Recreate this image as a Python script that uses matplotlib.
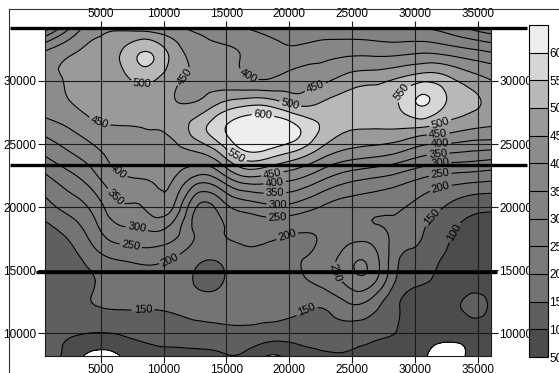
import numpy as np
import matplotlib
matplotlib.use("Agg")
import matplotlib.pyplot as plt
import matplotlib.tri as mtri
from matplotlib.lines import Line2D

plt.rcParams["font.family"] = ["Liberation Sans", "DejaVu Sans"]

# sample positions of the gridded survey values
x_grid = [560, 2560, 4560, 6560, 8560, 10560, 12560, 14560, 16560, 18560,
          20560, 22560, 24560, 26560, 28560, 30560, 32560, 34560, 36560]
y_grid = [34200, 32200, 30200, 28200, 26200, 24200, 22200,
          20200, 18200, 16200, 14200, 12200, 10200, 8200]

# values, one row per y_grid entry (top row first)
z_rows = [
    [220, 350, 430, 440, 425, 410, 390, 370, 350, 330, 320, 320, 320, 315, 310, 300, 280, 240, 210],
    [410, 445, 470, 500, 555, 490, 430, 410, 395, 370, 365, 380, 390, 390, 390, 400, 390, 370, 350],
    [430, 458, 475, 485, 515, 470, 440, 425, 405, 400, 420, 435, 465, 480, 500, 530, 510, 470, 440],
    [425, 448, 470, 475, 460, 455, 455, 505, 535, 530, 490, 505, 520, 525, 545, 605, 545, 510, 470],
    [370, 400, 435, 445, 450, 460, 520, 590, 640, 640, 610, 545, 505, 500, 500, 490, 470, 450, 440],
    [305, 345, 385, 420, 425, 430, 440, 500, 585, 570, 530, 470, 430, 415, 395, 360, 345, 335, 325],
    [235, 280, 335, 390, 400, 405, 330, 360, 430, 420, 400, 355, 315, 295, 275, 245, 225, 215, 205],
    [185, 225, 275, 345, 360, 370, 210, 230, 280, 300, 290, 255, 230, 220, 210, 185, 150, 120, 115],
    [135, 170, 235, 290, 300, 285, 190, 195, 215, 215, 205, 205, 215, 210, 190, 155, 110, 90, 85],
    [120, 135, 185, 215, 225, 210, 170, 165, 190, 190, 195, 215, 270, 275, 165, 130, 95, 85, 80],
    [115, 130, 150, 170, 180, 185, 145, 145, 180, 180, 190, 215, 265, 270, 145, 105, 85, 80, 75],
    [125, 140, 150, 155, 155, 160, 165, 170, 170, 170, 165, 155, 190, 175, 105, 85, 80, 112, 75],
    [110, 110, 105, 110, 120, 125, 130, 135, 140, 130, 125, 125, 130, 115, 100, 80, 65, 75, 70],
    [110, 85, 30, 50, 80, 85, 90, 95, 90, 45, 75, 90, 95, 85, 95, 60, 30, 60, 65],
]

levels = [50, 100, 150, 200, 250, 300, 350, 400, 450, 500, 550, 600, 650]
band_colors = ["#4c4c4c", "#5f5f5f", "#747474", "#7a7a7a", "#7e7e7e", "#828282",
               "#868686", "#8c8c8c", "#9a9a9a", "#b8b8b8", "#d6d6d6", "#eeeeee"]

x_ticks = [5000, 10000, 15000, 20000, 25000, 30000, 35000]
y_ticks = [10000, 15000, 20000, 25000, 30000]
section_y = [34200, 23350, 14880]

# where the contour values are written on the map
label_spots = [
    (8280, 30000), (11540, 30480), (16880, 30710), (4940, 26900),
    (17910, 27300), (15760, 23970), (18710, 22380), (18870, 21660),
    (18870, 20950), (19100, 20150), (19100, 18960), (19820, 17770),
    (22210, 29130), (20060, 28100), (29050, 29050), (32000, 26800),
    (31840, 25950), (32000, 25160), (31840, 24280), (32000, 23490),
    (32000, 22700), (32000, 21740), (6290, 22770), (5890, 20550),
    (7880, 18410), (7480, 17380), (10350, 16190), (8360, 11820),
    (21490, 11580), (23080, 14600), (31440, 19120), (32640, 18330),
]

X, Y = np.meshgrid(x_grid, y_grid)
Z = np.array(z_rows, dtype=float)
tri = mtri.Triangulation(X.ravel(), Y.ravel())
refiner = mtri.UniformTriRefiner(tri)
tri_fine, z_fine = refiner.refine_field(Z.ravel(), subdiv=3)

fig = plt.figure(figsize=(5.59, 3.73), dpi=100)
ax = fig.add_axes([45 / 559, 1 - 356 / 373, 446 / 559, 328 / 373])
cax = fig.add_axes([529 / 559, 1 - 357 / 373, 19 / 559, 332 / 373])

cf = ax.tricontourf(tri_fine, z_fine, levels=levels, colors=band_colors)
cs = ax.tricontour(tri_fine, z_fine, levels=levels, colors="black", linewidths=0.8)
ax.clabel(cs, levels[:-1], fmt="%d", fontsize=8, inline=True, inline_spacing=2,
          manual=label_spots)

ax.set_xlim(560, 36060)
ax.set_ylim(8200, 34200)
ax.set_xticks(x_ticks)
ax.set_yticks(y_ticks)
ax.grid(True, color="#1a1a1a", linewidth=0.8)
ax.tick_params(axis="both", which="both", direction="out", length=5, width=0.8,
               labelsize=8.5, pad=1, color="#1a1a1a",
               top=True, bottom=True, left=True, right=True,
               labeltop=True, labelbottom=True, labelleft=True, labelright=True)
for s in ax.spines.values():
    s.set_color("#1a1a1a")
    s.set_linewidth(0.8)

# heavy section lines crossing the map
for i, yv in enumerate(section_y):
    x0, x1 = (-2230, 38900) if i < 2 else (-150, 36500)
    ax.plot([x0, x1], [yv, yv], color="black", linewidth=2.4, clip_on=False,
            solid_capstyle="butt", zorder=5)

cb = fig.colorbar(cf, cax=cax, drawedges=True)
cb.set_ticks(levels[:-1])
cb.ax.tick_params(length=0, labelsize=8.5, pad=1)
cb.outline.set_linewidth(0.8)
cb.dividers.set_linewidth(0.8)

# frame of the sheet
fig.add_artist(Line2D([9 / 559, 9 / 559], [0, 1 - 9 / 373], color="#333333", linewidth=0.8))
fig.add_artist(Line2D([9 / 559, 1], [1 - 9 / 373, 1 - 9 / 373], color="#333333", linewidth=0.8))

fig.savefig("out.png", dpi=100)
